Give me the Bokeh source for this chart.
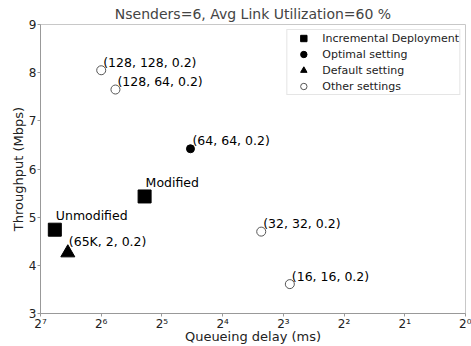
from bokeh.plotting import figure
from bokeh.models import (Range1d, FixedTicker, Legend, LegendItem, ColumnDataSource,
                          CustomJSTickFormatter)
from bokeh.core.properties import value
from bokeh.embed import file_html
from bokeh.resources import INLINE

# ---- data ----
incr_labels = ["Unmodified", "Modified"]
incr_delay = [108.7, 39.0]
incr_tput = [4.74, 5.43]

opt_labels = ["(64, 64, 0.2)"]
opt_delay = [23.1]
opt_tput = [6.42]

def_labels = ["(65K, 2, 0.2)"]
def_delay = [93.7]
def_tput = [4.26]

other_labels = ["(128, 128, 0.2)", "(128, 64, 0.2)", "(32, 32, 0.2)", "(16, 16, 0.2)"]
other_delay = [64.0, 54.4, 10.3, 7.43]
other_tput = [8.05, 7.65, 4.70, 3.61]

x_ticks = [128, 64, 32, 16, 8, 4, 2, 1]
x_tick_labels = ["2\u2077", "2\u2076", "2\u2075", "2\u2074", "2\u00b3", "2\u00b2", "2\u00b9", "2\u2070"]
y_ticks = [3, 4, 5, 6, 7, 8, 9]

title = "Nsenders=6, Avg Link Utilization=60 %"
FONT = "DejaVu Sans"

p = figure(width=471, height=346, x_axis_type="log",
           x_range=Range1d(max(x_ticks), min(x_ticks)), y_range=Range1d(min(y_ticks), max(y_ticks)),
           output_backend="svg", toolbar_location=None, title=title,
           min_border_left=40, min_border_right=6, min_border_top=0, min_border_bottom=0)

p.title.text_font = FONT
p.title.text_font_size = "14px"
p.title.text_font_style = "normal"
p.title.align = "center"
p.title.standoff = 6
p.title.offset = 0
p.title.text_line_height = 1.0

p.grid.visible = False
p.outline_line_color = "#c8c8c8"
p.outline_line_width = 1

for ax in (p.xaxis[0], p.yaxis[0]):
    ax.axis_line_color = "#999999"
    ax.major_tick_line_color = "#999999"
    ax.major_tick_in = 0
    ax.major_tick_out = 3
    ax.minor_tick_line_color = None
    ax.major_label_text_font = FONT
    ax.major_label_text_font_size = "12px"
    ax.major_label_text_color = "#222222"
    ax.major_label_text_line_height = 0.9
    ax.axis_label_text_font = FONT
    ax.axis_label_text_font_size = "13px"
    ax.axis_label_text_font_style = "normal"
    ax.axis_label_text_color = "#222222"
    ax.axis_label_text_line_height = 0.9
    ax.major_label_standoff = 1
    ax.axis_label_standoff = 0

p.xaxis.major_label_standoff = 0
p.xaxis.axis_label_standoff = -5

p.xaxis.ticker = FixedTicker(ticks=x_ticks)
p.xaxis.formatter = CustomJSTickFormatter(args=dict(tvals=x_ticks, tlabels=x_tick_labels), code="""
    let best = -1, bd = 1e9;
    for (let i = 0; i < tvals.length; i++) {
        const d = Math.abs(Math.log2(tvals[i]) - Math.log2(tick));
        if (d < bd) { bd = d; best = i; }
    }
    return bd < 1e-6 ? tlabels[best] : "";
""")
p.yaxis.ticker = FixedTicker(ticks=y_ticks)
p.xaxis.axis_label = "Queueing delay (ms)"
p.yaxis.axis_label = "Throughput (Mbps)"

src_incr = ColumnDataSource(dict(x=incr_delay, y=incr_tput, t=incr_labels))
src_opt = ColumnDataSource(dict(x=opt_delay, y=opt_tput, t=opt_labels))
src_def = ColumnDataSource(dict(x=def_delay, y=def_tput, t=def_labels))
src_oth = ColumnDataSource(dict(x=other_delay, y=other_tput, t=other_labels))

r_incr = p.scatter("x", "y", source=src_incr, marker="square", size=13,
                   fill_color="black", line_color="black")
r_opt = p.scatter("x", "y", source=src_opt, marker="circle", size=8,
                  fill_color="black", line_color="black")
r_def = p.scatter("x", "y", source=src_def, marker="triangle", size=14,
                  fill_color="black", line_color="black")
r_oth = p.scatter("x", "y", source=src_oth, marker="circle", size=9,
                  fill_color="white", line_color="#555555", line_width=1)

common = dict(text="t", text_font=value(FONT), text_font_size="12.5px", text_color="black",
              text_align="left", text_baseline="middle")
p.text("x", "y", source=src_incr, x_offset=1, y_offset=-14, **common)
p.text("x", "y", source=src_opt, x_offset=2, y_offset=-8, **common)
p.text("x", "y", source=src_def, x_offset=1, y_offset=-11, **common)
p.text("x", "y", source=src_oth, x_offset=2, y_offset=-8, **common)

legend = Legend(items=[
    LegendItem(label="Incremental Deployment", renderers=[r_incr]),
    LegendItem(label="Optimal setting", renderers=[r_opt]),
    LegendItem(label="Default setting", renderers=[r_def]),
    LegendItem(label="Other settings", renderers=[r_oth]),
], location="top_right")
legend.label_text_font = FONT
legend.label_text_font_size = "11px"
legend.label_text_color = "#222222"
legend.glyph_width = 32
legend.glyph_height = 16
legend.label_height = 16
legend.label_standoff = 3
legend.label_width = 130
legend.spacing = 0
legend.padding = 0
legend.margin = 5
legend.border_line_color = "#cccccc"
legend.border_line_width = 1
legend.background_fill_color = "white"
legend.background_fill_alpha = 0.8
p.add_layout(legend)

open("out.html", "w").write(file_html(p, INLINE))
